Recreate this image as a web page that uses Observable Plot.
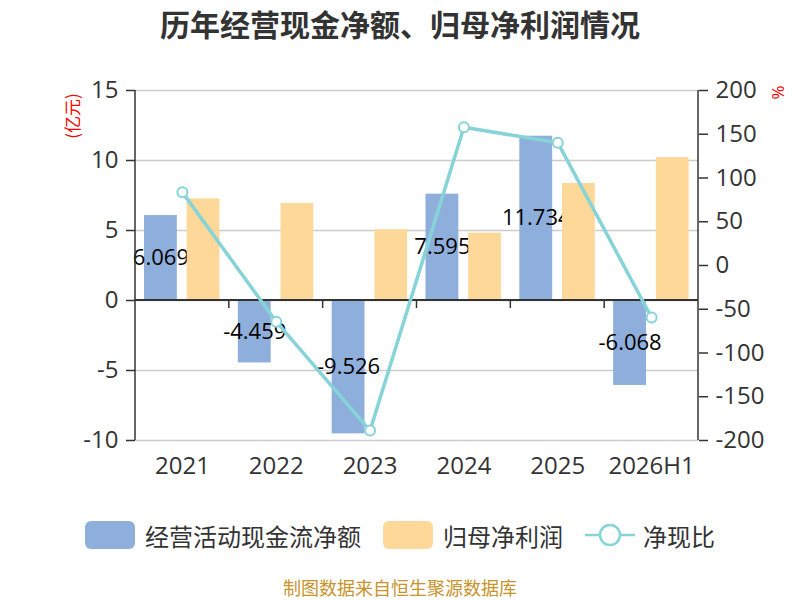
<!DOCTYPE html>
<html><head><meta charset="utf-8">
<script src="https://cdn.jsdelivr.net/npm/d3@7"></script>
<script src="https://cdn.jsdelivr.net/npm/@observablehq/plot@0.6"></script>
<style>
body{margin:0;width:800px;height:600px;position:relative;background:#fff;font-family:"Open Sans","Noto Sans CJK SC",sans-serif;overflow:hidden}
#title{position:absolute;top:0;left:0;width:800px;text-align:center;font-weight:bold;font-size:30px;font-family:"Noto Sans CJK SC",sans-serif;line-height:46px;color:#333}
#chart{position:absolute;top:44px;left:0}
#legend{position:absolute;top:520px;left:0;width:800px;height:30px;display:flex;justify-content:center;align-items:center;font-size:24px;color:#333;font-family:"Noto Sans CJK SC",sans-serif}
.item{display:flex;align-items:center;margin:0 11px}
.sw{width:50px;height:28px;border-radius:6px;margin-right:10px}
#caption{position:absolute;top:577px;left:0;width:800px;text-align:center;font-size:18px;line-height:20px;color:#c8932b;font-family:"Noto Sans CJK SC",sans-serif}
</style>
</head><body>
<div id="title">历年经营现金净额、归母净利润情况</div>
<div id="chart"></div>
<div id="legend"></div>
<div id="caption">制图数据来自恒生聚源数据库</div>
<script>
const years = ["2021","2022","2023","2024","2025","2026H1"];
const cashFlow = [6.069, -4.459, -9.526, 7.595, 11.734, -6.068];
const netProfit = [7.26, 6.93, 5.05, 4.81, 8.36, 10.21];
const cashRatio = [83.6, -64.2, -188.6, 157.9, 140.4, -59.4];
const leftTicks = [-10, -5, 0, 5, 10, 15];
const rightTicks = [-200, -150, -100, -50, 0, 50, 100, 150, 200];
const seriesNames = ["经营活动现金流净额", "归母净利润", "净现比"];
const colors = {blue: "#8eaedb", orange: "#fed899", teal: "#86d4d7", axis: "#333333", grid: "#cccccc"};

// right axis (%) mapped onto left axis (亿元): 200 -> 15, -200 -> -10
const toLeft = p => p / 16 + 2.5;
const fromLeft = v => Math.round((v - 2.5) * 16);

const data = years.map((year, i) => ({year, cf: cashFlow[i], np: netProfit[i], ratio: cashRatio[i]}));

function axisLines(index, scales, values, dimensions) {
  const {width, height, marginLeft, marginRight, marginTop, marginBottom} = dimensions;
  const g = d3.create("svg:g").attr("stroke", colors.axis).attr("stroke-width", 1.5).attr("fill", "none");
  const x0 = marginLeft, x1 = width - marginRight, yT = marginTop, yB = height - marginBottom;
  const yz = scales.y(0);
  g.append("line").attr("x1", x0).attr("x2", x0).attr("y1", yT).attr("y2", yB);
  g.append("line").attr("x1", x1).attr("x2", x1).attr("y1", yT).attr("y2", yB);
  g.append("line").attr("x1", x0).attr("x2", x1).attr("y1", yz).attr("y2", yz).attr("stroke-width", 2);
  years.slice(1).forEach(c => {
    const xp = scales.x(c);
    g.append("line").attr("x1", xp).attr("x2", xp).attr("y1", yz).attr("y2", yz + 8);
  });
  return g.node();
}

const chart = Plot.plot({
  width: 800,
  height: 456,
  marginLeft: 135,
  marginRight: 102,
  marginTop: 46,
  marginBottom: 60,
  style: {fontFamily: '"Open Sans","Noto Sans CJK SC",sans-serif', fontSize: "24px", color: colors.axis, background: "transparent", overflow: "visible"},
  x: {type: "band", domain: years, padding: 0, round: false, axis: null},
  y: {domain: [-10, 15], axis: null},
  marks: [
    Plot.gridY(leftTicks, {stroke: colors.grid, strokeOpacity: 1, strokeWidth: 1.5}),
    Plot.barY(data, {x: "year", y: "cf", fill: colors.blue, insetLeft: 9, insetRight: 52}),
    Plot.text(data, {x: "year", y: d => d.cf / 2, text: d => d.cf.toFixed(3), dx: -21.5, fill: "#000", fontSize: 22}),
    Plot.barY(data, {x: "year", y: "np", fill: colors.orange, insetLeft: 51.7, insetRight: 9.4}),
    axisLines,
    Plot.axisX({anchor: "bottom", tickSize: 0, tickPadding: 16, fontSize: 24, label: null, fill: colors.axis}),
    Plot.axisY(leftTicks, {anchor: "left", tickSize: 9, tickPadding: 8, fontSize: 24, label: null, tickFormat: d => String(d), stroke: colors.axis, fill: colors.axis, strokeWidth: 1.5}),
    Plot.axisY(rightTicks.map(toLeft), {anchor: "right", tickSize: 9, tickPadding: 8, fontSize: 24, label: null, tickFormat: v => String(fromLeft(v)), stroke: colors.axis, fill: colors.axis, strokeWidth: 1.5}),
    Plot.text(["(亿元)"], {frameAnchor: "top-left", dx: -62, dy: 25.5, rotate: -90, lineAnchor: "middle", textAnchor: "middle", fill: "red", fontSize: 17, fontFamily: '"Noto Sans CJK SC",sans-serif'}),
    Plot.text(["%"], {frameAnchor: "top-right", dx: 79, dy: 2, rotate: 90, lineAnchor: "middle", textAnchor: "middle", fill: "red", fontSize: 17}),
    Plot.line(data, {x: "year", y: d => toLeft(d.ratio), stroke: colors.teal, strokeWidth: 3.5}),
    Plot.dot(data, {x: "year", y: d => toLeft(d.ratio), r: 5, fill: "#fff", stroke: colors.teal, strokeWidth: 2})
  ]
});
document.getElementById("chart").appendChild(chart);

// legend
const legend = document.getElementById("legend");
const swatchColors = [colors.blue, colors.orange];
seriesNames.forEach((name, i) => {
  const item = document.createElement("div");
  item.className = "item";
  if (i < 2) {
    const sw = document.createElement("div");
    sw.className = "sw";
    sw.style.background = swatchColors[i];
    item.appendChild(sw);
  } else {
    const s = d3.create("svg").attr("width", 50).attr("height", 28).style("margin-right", "8px");
    s.append("line").attr("x1", 0).attr("x2", 50).attr("y1", 14).attr("y2", 14).attr("stroke", colors.teal).attr("stroke-width", 2.5);
    s.append("circle").attr("cx", 25).attr("cy", 14).attr("r", 10).attr("fill", "#fff").attr("stroke", colors.teal).attr("stroke-width", 2.5);
    item.appendChild(s.node());
  }
  const t = document.createElement("span");
  t.textContent = name;
  item.appendChild(t);
  legend.appendChild(item);
});
</script>
</body></html>
